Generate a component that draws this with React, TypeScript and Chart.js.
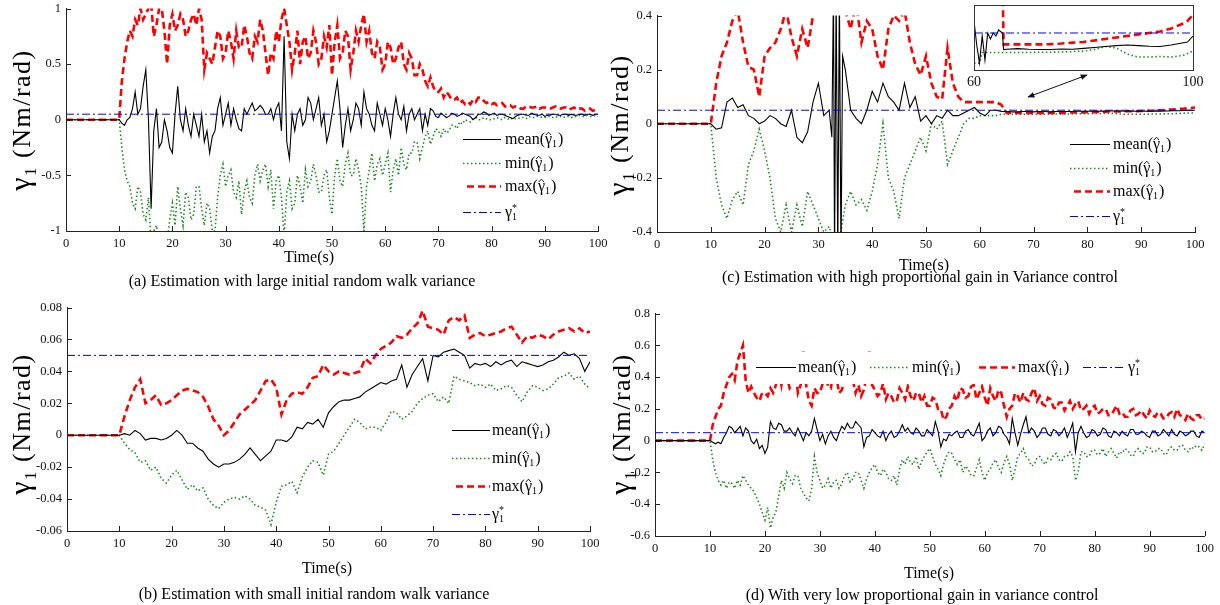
import React, { useEffect, useRef } from "react";
import { Chart, registerables } from "chart.js";
Chart.register(...registerables);

// ---------- DATA ----------
// 1-second time base (panels b, c)
const T = [0,
  10, 11, 12, 13, 14, 15, 16, 17, 18, 19,
  20, 21, 22, 23, 24, 25, 26, 27, 28, 29,
  30, 31, 32, 33, 34, 35, 36, 37, 38, 39,
  40, 41, 42, 43, 44, 45, 46, 47, 48, 49,
  50, 51, 52, 53, 54, 55, 56, 57, 58, 59,
  60, 61, 62, 63, 64, 65, 66, 67, 68, 69,
  70, 71, 72, 73, 74, 75, 76, 77, 78, 79,
  80, 81, 82, 83, 84, 85, 86, 87, 88, 89,
  90, 91, 92, 93, 94, 95, 96, 97, 98, 99,
  100];
// half-second time base (panels a, d)
const T2 = [0,
  10, 10.5, 11, 11.5, 12, 12.5, 13, 13.5, 14, 14.5, 15, 15.5, 16, 16.5, 17, 17.5, 18, 18.5, 19, 19.5,
  20, 20.5, 21, 21.5, 22, 22.5, 23, 23.5, 24, 24.5, 25, 25.5, 26, 26.5, 27, 27.5, 28, 28.5, 29, 29.5,
  30, 30.5, 31, 31.5, 32, 32.5, 33, 33.5, 34, 34.5, 35, 35.5, 36, 36.5, 37, 37.5, 38, 38.5, 39, 39.5,
  40, 40.5, 41, 41.5, 42, 42.5, 43, 43.5, 44, 44.5, 45, 45.5, 46, 46.5, 47, 47.5, 48, 48.5, 49, 49.5,
  50, 50.5, 51, 51.5, 52, 52.5, 53, 53.5, 54, 54.5, 55, 55.5, 56, 56.5, 57, 57.5, 58, 58.5, 59, 59.5,
  60, 60.5, 61, 61.5, 62, 62.5, 63, 63.5, 64, 64.5, 65, 65.5, 66, 66.5, 67, 67.5, 68, 68.5, 69, 69.5,
  70, 70.5, 71, 71.5, 72, 72.5, 73, 73.5, 74, 74.5, 75, 75.5, 76, 76.5, 77, 77.5, 78, 78.5, 79, 79.5,
  80, 80.5, 81, 81.5, 82, 82.5, 83, 83.5, 84, 84.5, 85, 85.5, 86, 86.5, 87, 87.5, 88, 88.5, 89, 89.5,
  90, 90.5, 91, 91.5, 92, 92.5, 93, 93.5, 94, 94.5, 95, 95.5, 96, 96.5, 97, 97.5, 98, 98.5, 99, 99.5,
  100];
const X_TICKS = [0, 10, 20, 30, 40, 50, 60, 70, 80, 90, 100];
const REF_T = [0, 100];
const REF_V = [0.05, 0.05];

// (a) large initial random walk variance
const aMean = [0,
  0, -0.03, -0.05, 0.0, 0.02, 0.1, 0.25, 0.05, 0.1, 0.3, 0.45, 0.0, -0.8, -0.1, 0.1, -0.25, -0.2, 0.0, -0.1, -0.25,
  -0.3, 0.05, 0.3, 0.0, -0.1, 0.1, -0.05, -0.15, 0.05, -0.05, -0.15, 0.05, -0.2, -0.1, -0.3, -0.15, -0.1, 0.1, 0.2, -0.05,
  0.05, 0.15, -0.05, 0.1, 0.0, -0.08, -0.1, 0.1, 0.05, 0.1, 0.15, 0.08, 0.1, 0.13, 0.1, 0.05, 0.05, 0.1, 0.0, 0.1,
  0.15, -0.1, 0.75, -0.2, -0.35, 0.05, -0.1, 0.05, 0.1, -0.05, 0.0, 0.2, 0.15, 0.0, 0.1, 0.2, -0.05, 0.05, -0.2, -0.1,
  0.05, 0.2, 0.35, 0.1, -0.25, -0.05, 0.1, -0.1, 0.0, 0.15, 0.1, -0.05, 0.25, 0.1, 0.05, -0.05, -0.1, 0.15, 0.05, -0.05,
  0.1, 0.0, -0.15, 0.05, 0.2, 0.05, 0.0, 0.12, -0.1, 0.05, 0.1, 0.0, 0.05, 0.1, -0.1, 0.05, -0.05, 0.1, 0.08, 0.03,
  0.02, 0.06, 0.04, 0.02, 0.03, 0.06, 0.05, 0.03, 0.04, 0.06, 0.05, 0.04, 0.03, 0.0, 0.02, 0.05, 0.05, 0.07, 0.06, 0.04,
  0.05, 0.06, 0.04, 0.05, 0.05, 0.04, 0.03, 0.02, 0.01, 0.03, 0.04, 0.05, 0.05, 0.04, 0.04, 0.06, 0.05, 0.04, 0.04, 0.05,
  0.03, 0.04, 0.04, 0.05, 0.05, 0.04, 0.04, 0.05, 0.05, 0.04, 0.05, 0.04, 0.04, 0.05, 0.05, 0.04, 0.05, 0.05, 0.04, 0.05,
  0.05];
const aMax = [0,
  0, 0.35, 0.55, 0.7, 0.8, 0.75, 0.9, 0.85, 1.0, 0.9, 0.95, 1.0, 1.05, 0.75, 0.85, 1.0, 1.0, 0.8, 0.5, 0.85,
  0.95, 0.8, 0.85, 0.95, 0.9, 0.75, 0.8, 0.9, 0.95, 0.85, 1.0, 0.9, 0.45, 0.6, 0.55, 0.5, 0.65, 0.8, 0.75, 0.55,
  0.6, 0.8, 0.7, 0.55, 0.8, 0.65, 0.65, 0.85, 0.75, 0.6, 0.55, 0.75, 0.7, 0.9, 0.8, 0.6, 0.4, 0.6, 0.55, 0.8,
  0.7, 0.9, 1.0, 0.85, 0.7, 0.45, 0.6, 0.8, 0.5, 0.7, 0.75, 0.55, 0.6, 0.8, 0.7, 0.5, 0.55, 0.75, 0.65, 0.85,
  0.4, 0.7, 0.85, 0.55, 0.6, 0.8, 0.75, 0.45, 0.6, 0.8, 0.7, 0.85, 0.95, 0.7, 0.8, 0.6, 0.55, 0.7, 0.65, 0.45,
  0.5, 0.7, 0.65, 0.5, 0.55, 0.65, 0.7, 0.5, 0.45, 0.6, 0.55, 0.4, 0.4, 0.5, 0.45, 0.35, 0.3, 0.38, 0.3, 0.25,
  0.25, 0.28, 0.2, 0.25, 0.22, 0.18, 0.18, 0.2, 0.15, 0.17, 0.14, 0.16, 0.14, 0.18, 0.16, 0.2, 0.2, 0.17, 0.15, 0.16,
  0.14, 0.15, 0.13, 0.14, 0.15, 0.12, 0.12, 0.13, 0.11, 0.12, 0.12, 0.1, 0.1, 0.12, 0.12, 0.11, 0.11, 0.12, 0.1, 0.11,
  0.11, 0.1, 0.1, 0.11, 0.12, 0.1, 0.1, 0.11, 0.11, 0.09, 0.1, 0.11, 0.09, 0.1, 0.1, 0.08, 0.09, 0.1, 0.08, 0.09,
  0.1];
const aMin = [0,
  0, -0.25, -0.45, -0.55, -0.6, -0.75, -0.8, -0.6, -0.65, -0.85, -0.9, -0.7, -1.1, -1.0, -0.95, -1.1, -1.2, -1.05, -1.1, -0.9,
  -0.75, -0.95, -0.6, -0.8, -0.95, -0.65, -0.7, -0.9, -0.85, -0.6, -0.6, -0.8, -0.95, -0.75, -0.8, -1.0, -1.0, -0.7, -0.5, -0.4,
  -0.6, -0.5, -0.45, -0.65, -0.7, -0.55, -0.85, -0.65, -0.55, -0.7, -0.75, -0.5, -0.4, -0.55, -0.45, -0.4, -0.6, -0.45, -0.8, -0.55,
  -0.5, -0.7, -1.05, -0.65, -0.55, -0.8, -0.75, -0.5, -0.6, -0.75, -0.45, -0.6, -0.55, -0.4, -0.5, -0.65, -0.65, -0.5, -0.45, -0.7,
  -0.85, -0.5, -0.35, -0.55, -0.6, -0.4, -0.3, -0.5, -0.5, -0.35, -0.45, -0.6, -1.0, -0.6, -0.45, -0.3, -0.55, -0.4, -0.35, -0.5,
  -0.4, -0.3, -0.65, -0.45, -0.35, -0.5, -0.25, -0.4, -0.45, -0.3, -0.3, -0.2, -0.2, -0.35, -0.25, -0.15, -0.1, -0.22, -0.15, -0.08,
  -0.1, -0.15, -0.08, -0.12, -0.1, -0.05, -0.05, -0.08, -0.02, -0.04, 0.0, -0.01, -0.02, 0.01, 0.02, 0.0, 0.0, 0.02, 0.01, 0.0,
  0.0, 0.01, 0.02, 0.01, 0.0, 0.02, 0.01, 0.0, 0.02, 0.01, 0.01, 0.02, 0.02, 0.01, 0.03, 0.02, 0.02, 0.03, 0.03, 0.02,
  0.02, 0.03, 0.03, 0.02, 0.02, 0.03, 0.03, 0.02, 0.03, 0.03, 0.02, 0.03, 0.03, 0.04, 0.03, 0.03, 0.04, 0.03, 0.03, 0.04,
  0.03];
const aYTicks = [-1, -0.5, 0, 0.5, 1];

// (b) small initial random walk variance
const bMean = [0,
  0, 0.001, 0.0, 0.003, 0.001, -0.003, -0.002, -0.002, -0.003, -0.002,
  0.0, 0.003, 0.0, -0.005, -0.005, -0.008, -0.01, -0.015, -0.018, -0.02,
  -0.018, -0.018, -0.017, -0.015, -0.012, -0.008, -0.012, -0.016, -0.013, -0.01,
  -0.003, -0.003, -0.004, -0.001, 0.005, 0.004, 0.008, 0.007, 0.01, 0.005,
  0.014, 0.018, 0.021, 0.022, 0.022, 0.023, 0.024, 0.027, 0.029, 0.031,
  0.033, 0.032, 0.034, 0.035, 0.044, 0.03, 0.038, 0.043, 0.048, 0.034,
  0.05, 0.049, 0.052, 0.053, 0.054, 0.052, 0.05, 0.042, 0.045, 0.044,
  0.045, 0.043, 0.046, 0.044, 0.046, 0.047, 0.043, 0.046, 0.045, 0.044,
  0.043, 0.044, 0.046, 0.047, 0.049, 0.052, 0.05, 0.051, 0.048, 0.04,
  0.046];
const bMax = [0,
  0, 0.012, 0.022, 0.03, 0.035, 0.02, 0.022, 0.025, 0.019, 0.02,
  0.022, 0.025, 0.028, 0.029, 0.028, 0.027, 0.024, 0.018, 0.01, 0.006,
  0.0, 0.003, 0.008, 0.013, 0.016, 0.019, 0.022, 0.028, 0.034, 0.035,
  0.03, 0.013, 0.022, 0.026, 0.027, 0.026, 0.03, 0.036, 0.037, 0.044,
  0.04, 0.038, 0.04, 0.039, 0.038, 0.039, 0.04, 0.048, 0.045, 0.05,
  0.054, 0.056, 0.058, 0.062, 0.061, 0.063, 0.067, 0.07, 0.078, 0.068,
  0.067, 0.066, 0.063, 0.072, 0.074, 0.072, 0.075, 0.061, 0.063, 0.064,
  0.062, 0.063, 0.064, 0.065, 0.067, 0.068, 0.063, 0.058, 0.062, 0.061,
  0.063, 0.062, 0.06, 0.063, 0.065, 0.066, 0.067, 0.065, 0.067, 0.064,
  0.065];
const bMin = [0,
  0, -0.005, -0.009, -0.011, -0.017, -0.016, -0.022, -0.02, -0.027, -0.03,
  -0.025, -0.022, -0.028, -0.034, -0.031, -0.035, -0.033, -0.04, -0.044, -0.046,
  -0.042, -0.04, -0.039, -0.04, -0.038, -0.04, -0.044, -0.045, -0.047, -0.056,
  -0.042, -0.032, -0.031, -0.029, -0.036, -0.026, -0.02, -0.016, -0.017, -0.025,
  -0.012, -0.01, -0.005, 0.0, 0.005, 0.01, 0.008, 0.004, 0.005, 0.005,
  0.003, 0.008, 0.015, 0.014, 0.01, 0.012, 0.015, 0.02, 0.023, 0.025,
  0.026, 0.021, 0.024, 0.02, 0.037, 0.035, 0.034, 0.033, 0.031, 0.032,
  0.03, 0.032, 0.028, 0.029, 0.031, 0.03, 0.025, 0.021, 0.027, 0.031,
  0.03, 0.028, 0.029, 0.032, 0.036, 0.037, 0.039, 0.035, 0.037, 0.032,
  0.029];
const bYTicks = [-0.06, -0.04, -0.02, 0, 0.02, 0.04, 0.06, 0.08];

// (c) high proportional gain
const cMeanT = [0,
  10, 11, 12, 13, 14, 15, 16, 17, 18, 19,
  20, 21, 22, 23, 24, 25, 26, 27, 28, 29,
  30, 31, 32, 32.5, 32.8, 33.0, 33.3, 33.6, 33.9, 34.2, 34.5,
  35, 36, 37, 38, 39,
  40, 41, 42, 43, 44, 45, 46, 47, 48, 49,
  50, 51, 52, 53, 54, 55, 56, 57, 58, 59,
  60, 61, 62, 63, 64, 65, 66, 67, 68, 69,
  70, 71, 72, 73, 74, 75, 76, 77, 78, 79,
  80, 81, 82, 83, 84, 85, 86, 87, 88, 89,
  90, 91, 92, 93, 94, 95, 96, 97, 98, 99,
  100];
const cMean = [0,
  0, -0.02, -0.015, 0.08, 0.095, 0.06, 0.07, 0.03, 0.02, 0.0,
  0.01, 0.03, 0.02, 0.0, -0.01, 0.05, -0.05, -0.07, -0.03, 0.08,
  0.15, 0.03, 0.05, -0.05, 0.5, -0.5, 0.5, -0.5, 0.5, -0.5, 0.25,
  0.2, 0.05, 0.02, 0.0, 0.05,
  0.12, 0.08, 0.15, 0.1, 0.08, 0.05, 0.15, 0.06, 0.1, 0.01,
  0.03, 0.0, 0.03, 0.02, 0.05, 0.03, 0.03, 0.04, 0.05, 0.06,
  0.04, 0.03, 0.05, 0.05, 0.045, 0.045, 0.044, 0.044, 0.045, 0.045,
  0.044, 0.045, 0.045, 0.044, 0.045, 0.045, 0.045, 0.045, 0.046, 0.046,
  0.046, 0.046, 0.046, 0.046, 0.047, 0.047, 0.047, 0.046, 0.046, 0.046,
  0.046, 0.046, 0.046, 0.046, 0.047, 0.047, 0.048, 0.048, 0.049, 0.05,
  0.05];
const cMax = [0,
  0, 0.15, 0.25, 0.3, 0.38, 0.42, 0.3, 0.21, 0.2, 0.1,
  0.25, 0.28, 0.3, 0.35, 0.42, 0.32, 0.25, 0.35, 0.28, 0.4,
  0.45, 0.45, 0.5, 0.5, 0.5, 0.42, 0.35, 0.45, 0.3, 0.38,
  0.35, 0.25, 0.2, 0.35, 0.4, 0.38, 0.42, 0.3, 0.22, 0.18,
  0.25, 0.15, 0.1, 0.09, 0.28, 0.15, 0.1, 0.08, 0.08, 0.08,
  0.08, 0.08, 0.08, 0.08, 0.07, 0.04, 0.04, 0.04, 0.04, 0.04,
  0.04, 0.04, 0.04, 0.04, 0.04, 0.04, 0.04, 0.042, 0.042, 0.042,
  0.043, 0.043, 0.044, 0.044, 0.045, 0.045, 0.045, 0.046, 0.046, 0.046,
  0.047, 0.048, 0.048, 0.05, 0.05, 0.052, 0.053, 0.055, 0.056, 0.058,
  0.06];
const cMin = [0,
  0, -0.2, -0.3, -0.35, -0.28, -0.25, -0.3, -0.15, -0.1, -0.02,
  -0.1, -0.2, -0.35, -0.4, -0.3, -0.4, -0.3, -0.38, -0.25, -0.3,
  -0.35, -0.4, -0.38, -0.45, -0.42, -0.3, -0.25, -0.3, -0.28, -0.32,
  -0.25, -0.15, 0.0, -0.2, -0.25, -0.35, -0.2, -0.15, -0.1, -0.05,
  -0.1, 0.0, -0.02, 0.01, -0.15, -0.1, -0.05, 0.0, 0.02, 0.02,
  0.03, 0.03, 0.03, 0.03, 0.035, 0.035, 0.035, 0.035, 0.035, 0.035,
  0.035, 0.035, 0.035, 0.035, 0.036, 0.036, 0.036, 0.036, 0.037, 0.037,
  0.037, 0.038, 0.038, 0.038, 0.039, 0.038, 0.036, 0.035, 0.035, 0.035,
  0.035, 0.035, 0.036, 0.036, 0.036, 0.037, 0.037, 0.038, 0.039, 0.04,
  0.04];
const cYTicks = [-0.4, -0.2, 0, 0.2, 0.4];

// (c) inset, 60..100 s
const insT = [60, 60.5, 61, 61.5, 62, 62.5, 63, 63.5, 64, 64.5, 65.2, 65.4, 66, 68, 70, 72, 74, 76, 78, 80, 82, 84, 86, 88, 90, 92, 94, 96, 98, 99, 100];
const insMean = [0.054, 0.046, 0.04, 0.049, 0.041, 0.05, 0.048, 0.05, 0.049, 0.051, 0.05, 0.0445, 0.0446, 0.0448, 0.0446, 0.0445, 0.0445, 0.0447, 0.0446, 0.0449, 0.0452, 0.0455, 0.0458, 0.046, 0.0458, 0.0456, 0.0455, 0.046, 0.0467, 0.047, 0.049];
const insMax = [0.07, 0.07, 0.07, 0.07, 0.07, 0.07, 0.07, 0.07, 0.07, 0.07, 0.07, 0.0462, 0.0462, 0.0462, 0.0462, 0.0462, 0.0463, 0.0465, 0.0468, 0.047, 0.0475, 0.048, 0.0485, 0.049, 0.0495, 0.05, 0.0505, 0.0515, 0.053, 0.054, 0.056];
const insMin = [0.04, 0.04, 0.04, 0.0435, 0.0435, 0.0435, 0.0435, 0.0435, 0.0435, 0.0435, 0.0435, 0.0435, 0.0435, 0.0435, 0.0435, 0.0436, 0.0436, 0.0437, 0.0438, 0.044, 0.0445, 0.0455, 0.045, 0.043, 0.042, 0.042, 0.0422, 0.042, 0.0425, 0.0432, 0.044];
const insRefT = [60, 100];
const insXTicks = [60, 100];

// (d) very low proportional gain
const dMean = [0,
  0, -0.01, -0.02, -0.01, -0.02, 0.02, 0.05, 0.09, 0.08, 0.05, 0.07, 0.09, 0.03, 0.08, 0.06, 0.0, -0.02, 0.01, -0.05, -0.03,
  -0.08, -0.04, 0.12, 0.08, 0.07, 0.11, 0.1, 0.06, 0.06, 0.08, 0.05, 0.03, 0.08, 0.04, 0.0, 0.05, 0.03, 0.06, 0.14, 0.07,
  0.0, 0.04, -0.02, 0.03, 0.06, 0.02, 0.0, 0.05, 0.09, 0.07, 0.11, 0.08, 0.08, 0.12, 0.1, 0.08, -0.04, 0.02, 0.03, 0.07,
  0.05, 0.03, 0.02, 0.06, 0.0, 0.04, 0.06, 0.02, 0.03, 0.06, 0.1, 0.06, 0.08, 0.05, 0.04, 0.08, 0.06, 0.03, 0.03, 0.07,
  0.05, 0.03, 0.12, 0.06, -0.04, 0.01, 0.0, 0.04, 0.03, 0.05, 0.06, 0.02, 0.02, 0.06, 0.07, 0.04, 0.03, 0.07, 0.11, 0.0,
  0.02, 0.06, 0.08, 0.03, 0.05, 0.09, 0.08, 0.04, 0.02, -0.02, 0.14, 0.05, -0.03, 0.04, 0.1, 0.15, 0.05, 0.08, 0.06, 0.02,
  0.04, 0.08, 0.08, 0.04, 0.03, 0.07, 0.06, 0.03, 0.05, 0.08, 0.02, 0.06, 0.11, -0.07, 0.05, 0.09, 0.05, 0.02, 0.03, 0.07,
  0.06, 0.03, 0.04, 0.08, 0.07, 0.03, 0.02, 0.06, 0.05, 0.03, 0.06, 0.04, 0.03, 0.07, 0.07, 0.04, 0.04, 0.06, 0.05, 0.03,
  0.02, 0.06, 0.06, 0.03, 0.04, 0.07, 0.05, 0.03, 0.07, 0.04, 0.03, 0.06, 0.05, 0.03, 0.04, 0.06, 0.06, 0.03, 0.02, 0.06,
  0.05];
const dMax = [0,
  0, 0.1, 0.15, 0.2, 0.22, 0.3, 0.35, 0.4, 0.42, 0.38, 0.5, 0.55, 0.6, 0.38, 0.3, 0.34, 0.3, 0.27, 0.25, 0.3,
  0.3, 0.28, 0.33, 0.3, 0.35, 0.45, 0.35, 0.45, 0.4, 0.33, 0.35, 0.45, 0.3, 0.35, 0.56, 0.35, 0.25, 0.22, 0.33, 0.3,
  0.3, 0.36, 0.42, 0.34, 0.33, 0.45, 0.4, 0.3, 0.32, 0.38, 0.36, 0.45, 0.38, 0.3, 0.35, 0.28, 0.32, 0.4, 0.56, 0.35,
  0.32, 0.28, 0.3, 0.36, 0.26, 0.3, 0.28, 0.24, 0.25, 0.33, 0.3, 0.26, 0.34, 0.28, 0.25, 0.3, 0.3, 0.24, 0.28, 0.22,
  0.22, 0.27, 0.26, 0.2, 0.2, 0.13, 0.15, 0.2, 0.22, 0.28, 0.25, 0.33, 0.32, 0.27, 0.28, 0.34, 0.35, 0.26, 0.3, 0.34,
  0.27, 0.22, 0.33, 0.28, 0.25, 0.32, 0.3, 0.22, 0.15, 0.2, 0.22, 0.3, 0.28, 0.24, 0.3, 0.26, 0.25, 0.3, 0.33, 0.25,
  0.28, 0.23, 0.22, 0.27, 0.26, 0.21, 0.2, 0.24, 0.24, 0.19, 0.22, 0.25, 0.2, 0.23, 0.25, 0.19, 0.2, 0.22, 0.17, 0.21,
  0.22, 0.17, 0.18, 0.2, 0.2, 0.16, 0.16, 0.19, 0.22, 0.17, 0.18, 0.15, 0.15, 0.19, 0.2, 0.16, 0.17, 0.19, 0.16, 0.14,
  0.19, 0.16, 0.15, 0.18, 0.17, 0.14, 0.14, 0.17, 0.18, 0.15, 0.2, 0.16, 0.15, 0.13, 0.17, 0.14, 0.13, 0.16, 0.16, 0.13,
  0.14];
const dMin = [0,
  0, -0.12, -0.2, -0.25, -0.28, -0.25, -0.3, -0.26, -0.27, -0.3, -0.25, -0.28, -0.22, -0.25, -0.28, -0.3, -0.32, -0.36, -0.4, -0.45,
  -0.5, -0.42, -0.55, -0.48, -0.45, -0.35, -0.25, -0.3, -0.2, -0.24, -0.27, -0.22, -0.22, -0.3, -0.33, -0.36, -0.38, -0.3, -0.1, -0.2,
  -0.25, -0.3, -0.28, -0.24, -0.3, -0.26, -0.25, -0.3, -0.27, -0.22, -0.2, -0.26, -0.24, -0.2, -0.2, -0.25, -0.3, -0.24, -0.2, -0.17,
  -0.15, -0.2, -0.22, -0.18, -0.2, -0.24, -0.25, -0.22, -0.28, -0.18, -0.12, -0.15, -0.1, -0.14, -0.15, -0.1, -0.18, -0.13, -0.1, -0.07,
  -0.05, -0.1, -0.15, -0.18, -0.22, -0.15, -0.1, -0.07, -0.08, -0.12, -0.15, -0.12, -0.2, -0.16, -0.18, -0.22, -0.22, -0.17, -0.12, -0.2,
  -0.25, -0.2, -0.18, -0.14, -0.12, -0.17, -0.2, -0.14, -0.1, -0.15, -0.25, -0.18, -0.1, -0.08, -0.05, -0.1, -0.12, -0.16, -0.15, -0.11,
  -0.1, -0.13, -0.15, -0.11, -0.12, -0.09, -0.08, -0.12, -0.13, -0.1, -0.1, -0.07, -0.1, -0.25, -0.2, -0.07, -0.07, -0.1, -0.1, -0.06,
  -0.06, -0.09, -0.08, -0.05, -0.1, -0.07, -0.05, -0.08, -0.11, -0.07, -0.08, -0.05, -0.06, -0.09, -0.1, -0.06, -0.05, -0.08, -0.08, -0.04,
  -0.04, -0.07, -0.07, -0.05, -0.05, -0.08, -0.09, -0.05, -0.04, -0.06, -0.06, -0.03, -0.03, -0.06, -0.07, -0.04, -0.05, -0.03, -0.04, -0.06,
  -0.02];
const dYTicks = [-0.6, -0.4, -0.2, 0, 0.2, 0.4, 0.6, 0.8];

const CAPTIONS = [
  "(a) Estimation with large initial random walk variance",
  "(b) Estimation with small initial random walk variance",
  "(c) Estimation with high proportional gain in Variance control",
  "(d) With very low proportional gain in variance control",
];

// ---------- STYLE ----------
const SERIF = '"Liberation Serif", "Times New Roman", serif';
const STY: Record<string, any> = {
  mean: { borderColor: "#000000", borderWidth: 1.1, borderDash: [] },
  min: { borderColor: "#1b8c1b", borderWidth: 1.6, borderDash: [1.5, 2.5] },
  max: { borderColor: "#ff0000", borderWidth: 2.6, borderDash: [7, 4] },
  ref: { borderColor: "#0000ff", borderWidth: 1, borderDash: [8, 3, 2, 3] },
};

function pts(t: number[], v: number[]) {
  const n = Math.min(t.length, v.length);
  const out: { x: number; y: number }[] = [];
  for (let i = 0; i < n; i++) out.push({ x: t[i], y: v[i] });
  return out;
}
function ds(kind: string, t: number[], v: number[]) {
  return {
    label: kind,
    data: pts(t, v),
    ...STY[kind],
    pointRadius: 0,
    fill: false,
    tension: 0,
    borderCapStyle: "butt",
  };
}

function drawGammaLabel(ctx: CanvasRenderingContext2D, kind: string, x: number, y: number) {
  ctx.fillStyle = "#000";
  ctx.textBaseline = "alphabetic";
  ctx.textAlign = "left";
  const big = `16px ${SERIF}`;
  const small = `10px ${SERIF}`;
  const base = y + 5;
  let cx = x;
  if (kind !== "ref") {
    ctx.font = big;
    const pre = kind + "(";
    ctx.fillText(pre, cx, base);
    cx += ctx.measureText(pre).width;
    ctx.fillText("γ", cx, base);
    const gw = ctx.measureText("γ").width;
    ctx.save();
    ctx.strokeStyle = "#000";
    ctx.lineWidth = 0.9;
    ctx.setLineDash([]);
    ctx.beginPath();
    const hx = cx + gw / 2;
    ctx.moveTo(hx - 2.6, base - 9);
    ctx.lineTo(hx, base - 11.8);
    ctx.lineTo(hx + 2.6, base - 9);
    ctx.stroke();
    ctx.restore();
    cx += gw;
    ctx.font = small;
    ctx.fillText("1", cx, base + 3);
    cx += ctx.measureText("1").width + 1;
    ctx.font = big;
    ctx.fillText(")", cx, base);
  } else {
    ctx.font = big;
    ctx.fillText("γ", cx, base);
    cx += ctx.measureText("γ").width;
    ctx.font = small;
    ctx.fillText("*", cx, base - 6);
    ctx.fillText("1", cx, base + 3);
  }
}

type LegendItem = { kind: string; x1: number; x2: number; tx: number; y: number };
type PanelCfg = {
  l: number; r: number; t: number; b: number;
  padR: number;
  yMin: number; yMax: number; yTicks: number[];
  datasets: any[];
  legend: LegendItem[];
  legendBox?: { x: number; y: number; w: number; h: number };
};

const innerTicks = {
  id: "innerTicks",
  afterDraw(chart: any) {
    const { ctx, chartArea: ca, scales } = chart;
    ctx.save();
    ctx.strokeStyle = "#222";
    ctx.lineWidth = 1;
    ctx.setLineDash([]);
    ctx.beginPath();
    for (const tk of scales.x.ticks) {
      const px = Math.round(scales.x.getPixelForValue(tk.value)) + 0.5;
      ctx.moveTo(px, ca.bottom);
      ctx.lineTo(px, ca.bottom - 5);
    }
    for (const tk of scales.y.ticks) {
      const py = Math.round(scales.y.getPixelForValue(tk.value)) + 0.5;
      ctx.moveTo(ca.left, py);
      ctx.lineTo(ca.left + 5, py);
    }
    ctx.stroke();
    ctx.restore();
  },
};

const PAD_L = 45, PAD_T = 12, PAD_B = 26;

function Panel({ cfg }: { cfg: PanelCfg }) {
  const ref = useRef<HTMLCanvasElement>(null);
  const left = cfg.l - PAD_L;
  const top = cfg.t - PAD_T;
  const w = cfg.r + cfg.padR - left;
  const h = cfg.b + PAD_B - top;
  useEffect(() => {
    const legendPlugin = {
      id: "customLegend",
      afterDatasetsDraw(chart: any) {
        const ctx = chart.ctx as CanvasRenderingContext2D;
        ctx.save();
        if (cfg.legendBox) {
          ctx.fillStyle = "#ffffff";
          const bx = cfg.legendBox;
          ctx.fillRect(bx.x - left, bx.y - top, bx.w, bx.h);
        }
        for (const it of cfg.legend) {
          const s = STY[it.kind];
          ctx.strokeStyle = s.borderColor;
          ctx.lineWidth = s.borderWidth;
          ctx.setLineDash(s.borderDash);
          ctx.beginPath();
          ctx.moveTo(it.x1 - left, it.y - top + 0.5);
          ctx.lineTo(it.x2 - left, it.y - top + 0.5);
          ctx.stroke();
          ctx.setLineDash([]);
          drawGammaLabel(ctx, it.kind, it.tx - left, it.y - top);
        }
        ctx.restore();
      },
    };
    const tickFont = { family: SERIF, size: 12.5 };
    const chart = new Chart(ref.current as HTMLCanvasElement, {
      type: "line",
      data: { datasets: cfg.datasets },
      options: {
        animation: false,
        responsive: false,
        maintainAspectRatio: false,
        layout: { padding: { left: 0, top: PAD_T, right: cfg.padR, bottom: 0 } },
        plugins: { legend: { display: false }, tooltip: { enabled: false } },
        elements: { point: { radius: 0 } },
        scales: {
          x: {
            type: "linear",
            min: 0,
            max: 100,
            grid: { display: false, drawTicks: false },
            border: { display: true, color: "#222", width: 1 },
            ticks: { font: tickFont, color: "#111", padding: 5, maxRotation: 0, autoSkip: false, callback: (v: any) => String(v) },
            afterBuildTicks: (s: any) => { s.ticks = X_TICKS.map((v) => ({ value: v })); },
            afterFit: (s: any) => { s.height = PAD_B; },
          },
          y: {
            type: "linear",
            min: cfg.yMin,
            max: cfg.yMax,
            grid: { display: false, drawTicks: false },
            border: { display: true, color: "#222", width: 1 },
            ticks: { font: tickFont, color: "#111", padding: 5, autoSkip: false, callback: (v: any) => String(v) },
            afterBuildTicks: (s: any) => { s.ticks = cfg.yTicks.map((v) => ({ value: v })); },
            afterFit: (s: any) => { s.width = PAD_L; },
          },
        },
      } as any,
      plugins: [legendPlugin, innerTicks],
    });
    return () => chart.destroy();
  }, []);
  return (
    <canvas
      ref={ref}
      width={w}
      height={h}
      style={{ position: "absolute", left, top, width: w, height: h }}
    />
  );
}

function Inset() {
  const ref = useRef<HTMLCanvasElement>(null);
  const L = 973, R = 1193, TOP = 5, B = 70;
  const padL = 10, padR = 15, padB = 24;
  const left = L - padL, top = TOP - 5;
  const w = R + padR - left, h = B + padB - top;
  useEffect(() => {
    const boxPlugin = {
      id: "insetBox",
      beforeDraw(chart: any) {
        const { ctx, chartArea: ca } = chart;
        ctx.save();
        ctx.fillStyle = "#fff";
        ctx.fillRect(ca.left, ca.top, ca.right - ca.left, ca.bottom - ca.top);
        ctx.restore();
      },
      afterDraw(chart: any) {
        const { ctx, chartArea: ca } = chart;
        ctx.save();
        ctx.strokeStyle = "#333";
        ctx.lineWidth = 1;
        ctx.setLineDash([]);
        ctx.strokeRect(Math.round(ca.left) + 0.5, Math.round(ca.top) + 0.5, Math.round(ca.right - ca.left), Math.round(ca.bottom - ca.top));
        ctx.restore();
      },
    };
    const chart = new Chart(ref.current as HTMLCanvasElement, {
      type: "line",
      data: {
        datasets: [
          ds("ref", insRefT, REF_V),
          ds("mean", insT, insMean),
          ds("max", insT, insMax),
          ds("min", insT, insMin),
        ],
      },
      options: {
        animation: false,
        responsive: false,
        maintainAspectRatio: false,
        layout: { padding: { left: padL, top: 5, right: padR, bottom: 0 } },
        plugins: { legend: { display: false }, tooltip: { enabled: false } },
        scales: {
          x: {
            type: "linear",
            min: 60,
            max: 100,
            grid: { display: false, drawTicks: false },
            border: { display: false },
            ticks: { font: { family: SERIF, size: 14 }, color: "#111", padding: 4, maxRotation: 0, autoSkip: false, callback: (v: any) => String(v) },
            afterBuildTicks: (s: any) => { s.ticks = insXTicks.map((v) => ({ value: v })); },
            afterFit: (s: any) => { s.height = padB; },
          },
          y: { display: false, min: 0.0377, max: 0.0593 },
        },
      } as any,
      plugins: [boxPlugin],
    });
    return () => chart.destroy();
  }, []);
  return (
    <canvas ref={ref} width={w} height={h} style={{ position: "absolute", left, top, width: w, height: h }} />
  );
}

function YTitle({ x, y }: { x: number; y: number }) {
  return (
    <div
      style={{
        position: "absolute",
        left: x,
        top: y,
        transform: "translate(-50%, -50%) rotate(-90deg)",
        whiteSpace: "nowrap",
        fontFamily: SERIF,
        fontSize: 26,
        letterSpacing: "1.5px",
        lineHeight: "28px",
        color: "#000",
      }}
    >
      <span style={{ fontSize: 30 }}>γ</span>
      <span style={{ fontSize: 17, position: "relative", top: 6 }}>1</span> (Nm/rad)
    </div>
  );
}

function Label({ x, y, text, size }: { x: number; y: number; text: string; size: number }) {
  return (
    <div
      style={{
        position: "absolute",
        left: x,
        top: y,
        transform: "translate(-50%, -50%)",
        whiteSpace: "nowrap",
        fontFamily: SERIF,
        fontSize: size,
        color: "#000",
      }}
    >
      {text}
    </div>
  );
}

const legendVertical = (x1: number, x2: number, tx: number, ys: number[]): LegendItem[] => [
  { kind: "mean", x1, x2, tx, y: ys[0] },
  { kind: "min", x1, x2, tx, y: ys[1] },
  { kind: "max", x1: x1 + 4, x2, tx, y: ys[2] },
  { kind: "ref", x1, x2, tx, y: ys[3] },
];

const panels: PanelCfg[] = [
  {
    l: 66, r: 598, t: 8, b: 231, padR: 20,
    yMin: -1, yMax: 1, yTicks: aYTicks,
    datasets: [ds("ref", REF_T, REF_V), ds("mean", T2, aMean), ds("max", T2, aMax), ds("min", T2, aMin)],
    legend: legendVertical(463, 501, 505, [139, 163, 186, 212]),
  },
  {
    l: 657, r: 1195, t: 15, b: 232, padR: 20,
    yMin: -0.4, yMax: 0.4, yTicks: cYTicks,
    datasets: [ds("ref", REF_T, REF_V), ds("mean", cMeanT, cMean), ds("max", T, cMax), ds("min", T, cMin)],
    legend: legendVertical(1070, 1110, 1113, [144, 168, 191, 216]),
  },
  {
    l: 67, r: 590, t: 307, b: 531, padR: 20,
    yMin: -0.06, yMax: 0.08, yTicks: bYTicks,
    datasets: [ds("ref", REF_T, REF_V), ds("mean", T, bMean), ds("max", T, bMax), ds("min", T, bMin)],
    legend: legendVertical(452, 490, 492, [430, 458, 486, 514]),
  },
  {
    l: 655, r: 1205, t: 313, b: 536, padR: 14,
    yMin: -0.6, yMax: 0.8, yTicks: dYTicks,
    datasets: [ds("ref", REF_T, REF_V), ds("mean", T2, dMean), ds("max", T2, dMax), ds("min", T2, dMin)],
    legend: [
      { kind: "mean", x1: 756, x2: 796, tx: 798, y: 367 },
      { kind: "min", x1: 870, x2: 910, tx: 912, y: 367 },
      { kind: "max", x1: 979, x2: 1015, tx: 1018, y: 367 },
      { kind: "ref", x1: 1083, x2: 1125, tx: 1128, y: 367 },
    ],
    legendBox: { x: 748, y: 352, w: 410, h: 32 },
  },
];

export default function App() {
  return (
    <div style={{ position: "absolute", left: 0, top: 0, width: 1220, height: 605, background: "#fff", overflow: "hidden" }}>
      {panels.map((p, i) => (
        <Panel key={i} cfg={p} />
      ))}
      <Inset />
      <svg width={1220} height={605} style={{ position: "absolute", left: 0, top: 0, pointerEvents: "none" }}>
        <defs>
          <marker id="ah" viewBox="0 0 10 10" refX="9" refY="5" markerWidth="9" markerHeight="7" orient="auto-start-reverse">
            <path d="M0,1 L10,5 L0,9 z" fill="#111" />
          </marker>
        </defs>
        <line x1={1028} y1={97} x2={1087} y2={75} stroke="#111" strokeWidth={1} markerStart="url(#ah)" markerEnd="url(#ah)" />
      </svg>
      <YTitle x={22} y={120} />
      <YTitle x={620} y={125} />
      <YTitle x={22} y={424} />
      <YTitle x={622} y={424} />
      <Label x={309} y={257} text="Time(s)" size={16} />
      <Label x={924} y={265} text="Time(s)" size={16} />
      <Label x={327} y={568} text="Time(s)" size={16} />
      <Label x={929} y={573} text="Time(s)" size={16} />
      <Label x={302} y={281} text={CAPTIONS[0]} size={16} />
      <Label x={920} y={277} text={CAPTIONS[2]} size={16} />
      <Label x={314} y={594} text={CAPTIONS[1]} size={16} />
      <Label x={922} y={595} text={CAPTIONS[3]} size={16} />
    </div>
  );
}
